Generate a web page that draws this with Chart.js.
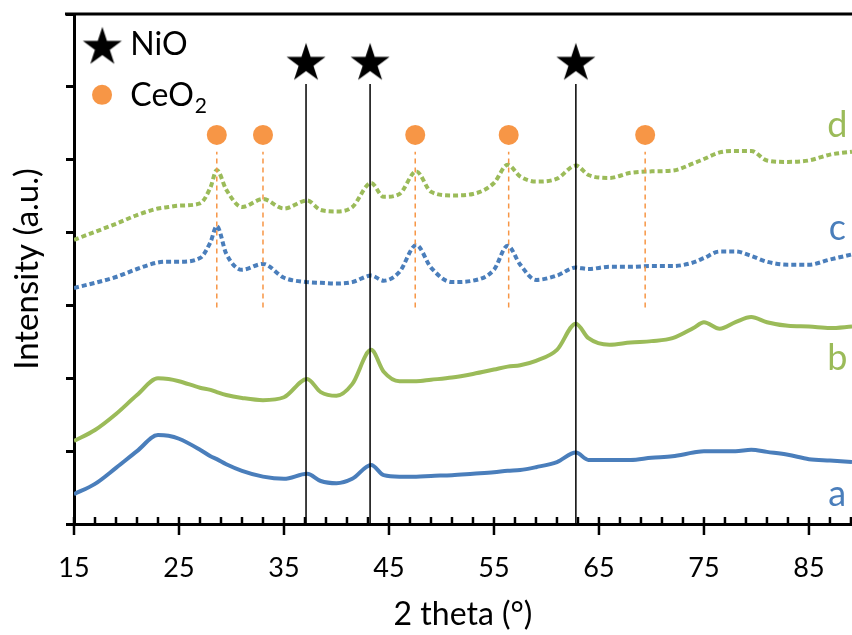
<!DOCTYPE html>
<html>
<head>
<meta charset="utf-8">
<script src="https://cdn.jsdelivr.net/npm/chart.js@4.4.1/dist/chart.umd.min.js"></script>
<style>
  html, body { margin: 0; padding: 0; background: #ffffff; }
  #wrap { width: 852px; height: 635px; }
</style>
</head>
<body>
<div id="wrap"><canvas id="c" width="852" height="635"></canvas></div>
<script>
// ---- data ----
const theta = [15,17,19,21,23,24,25,27,28,28.6,29.5,31,33,35,37.2,38.5,40,41.5,43.3,44.5,46,47.6,49,51,53,55,56.3,57.5,59,61,62.8,64,66,68,70,72,74,75,76.5,78,79.5,81,83,85,87,89.1];
const intensityA = [0.41,0.55,0.77,1.00,1.22,1.21,1.17,1.02,0.93,0.89,0.82,0.73,0.65,0.62,0.69,0.59,0.56,0.62,0.81,0.67,0.65,0.65,0.66,0.67,0.69,0.71,0.73,0.74,0.78,0.85,0.98,0.88,0.88,0.88,0.91,0.93,0.98,1.00,1.00,1.00,1.02,0.99,0.95,0.89,0.87,0.85];
const intensityB = [1.14,1.29,1.51,1.77,2.00,1.99,1.96,1.87,1.84,1.81,1.77,1.73,1.70,1.74,1.99,1.81,1.76,1.92,2.39,2.09,1.96,1.96,1.98,2.01,2.06,2.12,2.16,2.18,2.24,2.39,2.75,2.55,2.46,2.49,2.51,2.55,2.69,2.77,2.68,2.77,2.84,2.77,2.72,2.71,2.69,2.71];
const intensityC = [3.24,3.31,3.39,3.50,3.59,3.60,3.60,3.65,3.87,4.09,3.71,3.49,3.57,3.38,3.32,3.31,3.30,3.32,3.41,3.34,3.46,3.83,3.52,3.32,3.34,3.49,3.82,3.56,3.35,3.41,3.52,3.50,3.53,3.53,3.54,3.54,3.59,3.65,3.74,3.74,3.68,3.60,3.56,3.56,3.63,3.70];
const intensityD = [3.90,4.01,4.12,4.24,4.33,4.35,4.37,4.40,4.62,4.86,4.59,4.35,4.46,4.33,4.44,4.31,4.29,4.35,4.68,4.49,4.53,4.84,4.56,4.51,4.53,4.68,4.93,4.77,4.70,4.74,4.92,4.79,4.75,4.82,4.84,4.85,4.95,5.01,5.10,5.12,5.12,4.99,4.97,4.99,5.07,5.11];
const seriesNames = ['a','b','c','d'];

const nioPeaks = [37.1, 43.2, 62.8];
const ceo2Peaks = [28.6, 33.0, 47.5, 56.4, 69.4];
const nioMarkerLevel = 6.35;
const nioLineTop = 6.04;
const ceo2MarkerLevel = 5.34;
const ceo2LineRange = [2.97, 5.11];

const xMin = 15, xMax = 89.1;
const xTickLabels = [15, 25, 35, 45, 55, 65, 75, 85];
const yTicks = [0, 1, 2, 3, 4, 5, 6, 7];
const legendNames = ['NiO', 'CeO', '2'];

// ---- styles ----
const GREEN = '#9BBB59';
const BLUE = '#4A7EBB';
const ORANGE = '#F79646';
const FONT = 'Lato, "Open Sans", sans-serif';

function starImage(size, R) {
  const c = document.createElement('canvas');
  c.width = size; c.height = size;
  const g = c.getContext('2d');
  const cx = size / 2;
  const cy = size / 2 + (R - R * Math.cos(Math.PI / 5)) / 2;
  const r = R * 0.382;
  g.beginPath();
  for (let i = 0; i < 10; i++) {
    const rad = i % 2 === 0 ? R : r;
    const a = -Math.PI / 2 + i * Math.PI / 5;
    const px = cx + rad * Math.cos(a), py = cy + rad * Math.sin(a);
    if (i === 0) g.moveTo(px, py); else g.lineTo(px, py);
  }
  g.closePath();
  g.fillStyle = '#000';
  g.fill();
  return c;
}
const STAR = starImage(42, 20.5);

function series(vals) { return theta.map((t, i) => ({ x: t, y: vals[i] })); }

const datasets = [];
// vertical reference lines (NiO: solid black, CeO2: dashed orange)
nioPeaks.forEach(p => datasets.push({
  data: [{ x: p, y: 0 }, { x: p, y: nioLineTop }],
  borderColor: '#000', borderWidth: 1.5, pointRadius: 0, tension: 0
}));
ceo2Peaks.forEach(p => datasets.push({
  data: [{ x: p, y: ceo2LineRange[0] }, { x: p, y: ceo2LineRange[1] }],
  borderColor: ORANGE, borderWidth: 1.5, borderDash: [5, 4], pointRadius: 0, tension: 0
}));
// curves
datasets.push({ data: series(intensityA), borderColor: BLUE, borderWidth: 4, pointRadius: 0, cubicInterpolationMode: 'monotone' });
datasets.push({ data: series(intensityB), borderColor: GREEN, borderWidth: 4, pointRadius: 0, cubicInterpolationMode: 'monotone' });
datasets.push({ data: series(intensityC), borderColor: BLUE, borderWidth: 4, borderDash: [5, 3], pointRadius: 0, cubicInterpolationMode: 'monotone' });
datasets.push({ data: series(intensityD), borderColor: GREEN, borderWidth: 4, borderDash: [5, 3], pointRadius: 0, cubicInterpolationMode: 'monotone' });
// markers
datasets.push({
  data: nioPeaks.map(p => ({ x: p, y: nioMarkerLevel })).concat([{ x: 17.7, y: 6.57 }]),
  showLine: false, pointStyle: STAR, pointRadius: 20, borderWidth: 0
});
datasets.push({
  data: ceo2Peaks.map(p => ({ x: p, y: ceo2MarkerLevel })).concat([{ x: 17.67, y: 5.89 }]),
  showLine: false, pointStyle: 'circle', pointRadius: 10, backgroundColor: ORANGE, borderColor: ORANGE, borderWidth: 0
});

const decor = {
  id: 'decor',
  afterDraw(chart) {
    const { ctx, chartArea: ca, scales: { x, y } } = chart;
    ctx.save();
    // top frame line
    ctx.strokeStyle = '#000';
    ctx.lineWidth = 3;
    ctx.beginPath();
    ctx.moveTo(x.getPixelForValue(xMin) - 9, ca.top);
    ctx.lineTo(ca.right, ca.top);
    ctx.stroke();
    // x tick marks: majors cross the axis, minors point inward
    ctx.lineWidth = 2.5;
    for (let v = xMin; v <= x.max + 1e-9; v += 2) {
      const px = x.getPixelForValue(v);
      const major = xTickLabels.includes(v);
      ctx.beginPath();
      ctx.moveTo(px, ca.bottom - 7);
      ctx.lineTo(px, ca.bottom + (major ? 11 : 0));
      ctx.stroke();
    }
    // legend text
    ctx.fillStyle = '#000';
    ctx.textAlign = 'left';
    ctx.textBaseline = 'alphabetic';
    ctx.font = '32px ' + FONT;
    const lx = x.getPixelForValue(17.7) + 28;
    ctx.fillText(legendNames[0], lx, y.getPixelForValue(6.57) + 10);
    const cy = y.getPixelForValue(5.89) + 11;
    ctx.fillText(legendNames[1], lx, cy);
    const w = ctx.measureText(legendNames[1]).width;
    ctx.font = '21px ' + FONT;
    ctx.fillText(legendNames[2], lx + w + 1, cy + 7);
    // series labels
    ctx.font = '36px ' + FONT;
    ctx.textAlign = 'center';
    const labelPos = [0.247, 2.115, 3.90, 5.316];
    const labelCol = [BLUE, GREEN, BLUE, GREEN];
    seriesNames.forEach((s, i) => {
      ctx.fillStyle = labelCol[i];
      ctx.fillText(s, x.getPixelForValue(87.7), y.getPixelForValue(labelPos[i]));
    });
    ctx.restore();
  }
};

new Chart(document.getElementById('c'), {
  type: 'line',
  data: { datasets },
  options: {
    responsive: false,
    animation: false,
    devicePixelRatio: 1,
    layout: { autoPadding: false, padding: { top: 14, right: 0, left: 0, bottom: 0 } },
    plugins: { legend: { display: false }, tooltip: { enabled: false } },
    elements: { line: { fill: false } },
    scales: {
      x: {
        type: 'linear', min: xMin, max: xMax,
        afterBuildTicks: s => { s.ticks = xTickLabels.concat([xMax]).map(v => ({ value: v })); },
        afterFit: s => { s.height = 111; },
        grid: { display: true, drawOnChartArea: false, drawTicks: true, tickLength: 28, tickColor: 'rgba(0,0,0,0)', color: 'rgba(0,0,0,0)' },
        border: { display: true, color: '#000', width: 3 },
        ticks: {
          autoSkip: false, maxRotation: 0, padding: 0, color: '#000', font: { family: FONT, size: 27 },
          callback: v => (xTickLabels.includes(v) ? String(v) : '')
        },
        title: { display: true, text: '2 theta (°)', color: '#000', font: { family: FONT, size: 32 }, padding: { top: 0, bottom: 1 } }
      },
      y: {
        type: 'linear', min: 0, max: 7,
        afterBuildTicks: s => { s.ticks = yTicks.map(v => ({ value: v })); },
        afterFit: s => { s.width = 74; },
        grid: { display: true, drawOnChartArea: false, drawTicks: true, tickLength: 8, tickWidth: 3, tickColor: '#000', color: '#000' },
        border: { display: true, color: '#000', width: 3 },
        ticks: { display: false },
        title: { display: true, text: 'Intensity (a.u.)', color: '#000', font: { family: FONT, size: 33 }, padding: { top: 8, bottom: 0 } }
      }
    }
  },
  plugins: [decor]
});
</script>
</body>
</html>
